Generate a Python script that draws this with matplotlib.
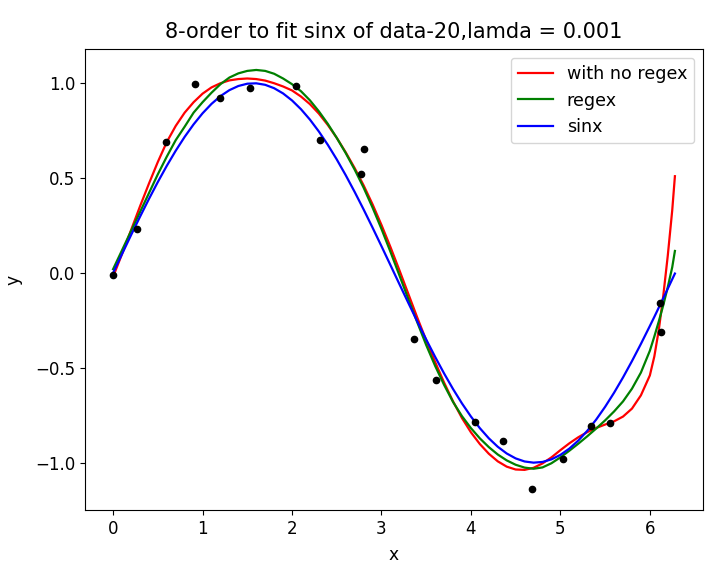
import numpy as np
import matplotlib
matplotlib.use("Agg")
import matplotlib.pyplot as plt

# sample points
x_data = [0.0, 0.272, 0.593, 0.915, 1.20, 1.53, 2.05, 2.317, 2.77, 2.806,
          3.366, 3.605, 4.049, 4.358, 4.683, 5.03, 5.347, 5.549, 6.11, 6.127]
y_data = [-0.01, 0.232, 0.69, 0.996, 0.923, 0.975, 0.984, 0.70, 0.523, 0.654,
          -0.346, -0.563, -0.788, -0.886, -1.139, -0.98, -0.807, -0.793, -0.156, -0.309]

# curves, read at these x positions
x_line = [0.0, 0.1, 0.2, 0.3, 0.4, 0.5, 0.6, 0.7, 0.8, 0.9,
          1.0, 1.1, 1.2, 1.3, 1.4, 1.5, 1.6, 1.7, 1.8, 1.9,
          2.0, 2.1, 2.2, 2.3, 2.4, 2.5, 2.6, 2.7, 2.8, 2.9,
          3.0, 3.1, 3.2, 3.3, 3.4, 3.5, 3.6, 3.7, 3.8, 3.9,
          4.0, 4.1, 4.2, 4.3, 4.4, 4.5, 4.6, 4.7, 4.8, 4.9,
          5.0, 5.1, 5.2, 5.3, 5.4, 5.5, 5.6, 5.7, 5.8, 5.9,
          6.0, 6.05, 6.1, 6.15, 6.2, 6.25, 6.28]
y_noreg = [-0.02, 0.10, 0.225, 0.35, 0.47, 0.585, 0.69, 0.775, 0.845, 0.90,
           0.945, 0.978, 1.0, 1.015, 1.022, 1.025, 1.022, 1.014, 1.0, 0.983,
           0.962, 0.93, 0.89, 0.84, 0.78, 0.712, 0.636, 0.553, 0.462, 0.362,
           0.253, 0.137, 0.015, -0.11, -0.235, -0.355, -0.47, -0.578, -0.677, -0.765,
           -0.84, -0.902, -0.953, -0.993, -1.021, -1.036, -1.038, -1.027, -1.004, -0.972,
           -0.934, -0.898, -0.866, -0.839, -0.817, -0.799, -0.782, -0.757, -0.715, -0.645,
           -0.54, -0.44, -0.30, -0.12, 0.09, 0.33, 0.51]
y_reg = [0.02, 0.12, 0.22, 0.32, 0.42, 0.52, 0.613, 0.70, 0.771, 0.845,
         0.90, 0.95, 0.995, 1.03, 1.052, 1.065, 1.07, 1.065, 1.05, 1.025,
         0.995, 0.958, 0.91, 0.852, 0.786, 0.712, 0.632, 0.545, 0.45, 0.345,
         0.232, 0.112, -0.012, -0.137, -0.26, -0.38, -0.49, -0.59, -0.68, -0.755,
         -0.818, -0.872, -0.918, -0.957, -0.988, -1.011, -1.026, -1.032, -1.025, -1.003,
         -0.972, -0.937, -0.9, -0.861, -0.82, -0.777, -0.73, -0.677, -0.61, -0.525,
         -0.41, -0.335, -0.255, -0.17, -0.075, 0.03, 0.116]
y_sin = [0.0, 0.0998, 0.1987, 0.2955, 0.3894, 0.4794, 0.5646, 0.6442, 0.7174, 0.7833,
         0.8415, 0.8912, 0.9320, 0.9636, 0.9854, 0.9975, 0.9996, 0.9917, 0.9738, 0.9463,
         0.9093, 0.8632, 0.8085, 0.7457, 0.6755, 0.5985, 0.5155, 0.4274, 0.3350, 0.2392,
         0.1411, 0.0416, -0.0584, -0.1577, -0.2555, -0.3508, -0.4425, -0.5298, -0.6119, -0.6878,
         -0.7568, -0.8183, -0.8716, -0.9162, -0.9516, -0.9775, -0.9937, -0.9999, -0.9962, -0.9825,
         -0.9589, -0.9258, -0.8835, -0.8323, -0.7728, -0.7055, -0.6313, -0.5507, -0.4646, -0.3739,
         -0.2794, -0.2315, -0.1822, -0.1328, -0.0831, -0.0332, -0.0032]

fig = plt.figure(figsize=(7.24, 5.69), dpi=100)
ax = fig.add_axes([85 / 724, 1 - 510 / 569, (703 - 85) / 724, (510 - 49) / 569])
ax.plot(x_line, y_noreg, 'r', lw=1.6, label='with no regex')
ax.plot(x_line, y_reg, 'g', lw=1.6, label='regex')
ax.plot(x_line, y_sin, 'b', lw=1.6, label='sinx')
ax.plot(x_data, y_data, 'ko', ms=4.5)
ax.set_title('8-order to fit sinx of data-20,lamda = 0.001', fontsize=15, pad=8)
ax.set_xlabel('x', fontsize=12.3, labelpad=6)
ax.set_ylabel('y', fontsize=12.3, labelpad=9)
ax.tick_params(labelsize=12)
ax.legend(fontsize=12.6)
fig.savefig('out.png')
